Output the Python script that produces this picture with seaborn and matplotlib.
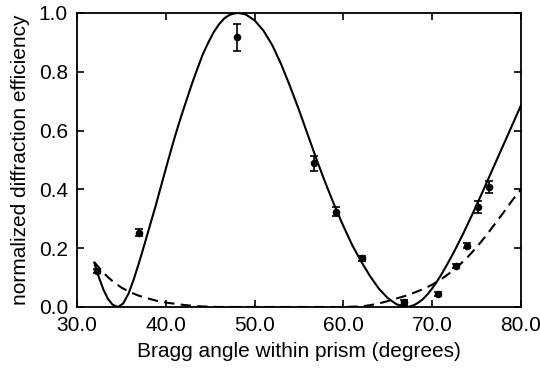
import numpy as np
import pandas as pd
import matplotlib
matplotlib.use("Agg")
import matplotlib.pyplot as plt
import seaborn as sns

# measured points
meas_x = [32.3, 37.0, 48.0, 56.7, 59.2, 62.1, 66.8, 70.6, 72.7, 73.9, 75.2, 76.4]
meas_y = [0.122, 0.253, 0.917, 0.489, 0.324, 0.166, 0.016, 0.044, 0.139, 0.209, 0.339, 0.409]
meas_err = [0.008, 0.012, 0.045, 0.025, 0.015, 0.008, 0.008, 0.006, 0.008, 0.01, 0.02, 0.02]

# solid theory curve
solid_x = [31.95, 32.5, 33.0, 33.5, 34.0, 34.6, 35.2, 35.8, 36.4, 37.0, 37.6, 38.2, 38.8,
           39.4, 40.0, 40.6, 41.2, 41.8, 42.4, 43.0, 43.6, 44.2, 44.8, 45.4, 46.0,
           46.6, 47.2, 47.8, 48.2, 49.0, 50.0, 51.0, 52.0, 53.0, 54.0, 55.0, 56.0,
           57.0, 58.0, 59.0, 60.0, 61.0, 62.0, 63.0, 64.0, 65.0, 66.0, 67.0, 67.5,
           68.0, 68.5, 69.0, 69.5, 70.0, 70.5, 71.0, 71.5, 72.0, 72.5, 73.0, 73.5,
           74.0, 74.5, 75.0, 75.5, 76.0, 76.5, 77.0, 77.5, 78.0, 78.5, 79.0, 79.5, 80.0]
solid_y = [0.150, 0.098, 0.057, 0.027, 0.008, 0.0, 0.012, 0.045, 0.095, 0.152, 0.213, 0.276, 0.338,
           0.404, 0.470, 0.535, 0.597, 0.655, 0.710, 0.764, 0.814, 0.862, 0.900, 0.935, 0.962,
           0.982, 0.994, 0.999, 1.0, 0.995, 0.975, 0.940, 0.890, 0.825, 0.750, 0.670, 0.585,
           0.500, 0.420, 0.345, 0.275, 0.210, 0.155, 0.105, 0.062, 0.030, 0.009, 0.0, 0.002,
           0.007, 0.016, 0.028, 0.044, 0.063, 0.085, 0.109, 0.135, 0.162, 0.190, 0.220, 0.250,
           0.282, 0.314, 0.347, 0.380, 0.414, 0.448, 0.482, 0.516, 0.550, 0.584, 0.618, 0.652, 0.686]

# dashed theory curve
dash_x = [31.9, 32.5, 33.0, 33.5, 34.0, 35.0, 36.0, 37.0, 38.0, 39.0, 40.0, 41.0, 42.0,
          43.0, 44.0, 46.0, 50.0, 55.0, 60.0, 61.0, 62.0, 63.0, 64.0, 65.0, 66.0, 67.0,
          68.0, 69.0, 70.0, 71.0, 72.0, 73.0, 74.0, 75.0, 76.0, 77.0, 78.0, 79.0, 80.0]
dash_y = [0.154, 0.133, 0.116, 0.101, 0.088, 0.066, 0.050, 0.038, 0.029, 0.021, 0.015, 0.011, 0.007,
          0.004, 0.002, 0.0, 0.0, 0.0, 0.0, 0.001, 0.002, 0.006, 0.012, 0.020, 0.029, 0.038,
          0.049, 0.061, 0.076, 0.094, 0.116, 0.141, 0.170, 0.203, 0.240, 0.280, 0.320, 0.362, 0.400]

xticks = [30, 40, 50, 60, 70, 80]
yticks = [0.0, 0.2, 0.4, 0.6, 0.8, 1.0]

sns.set_style("ticks")
plt.rcParams['font.family'] = ['Liberation Sans', 'DejaVu Sans']
plt.rcParams['text.color'] = 'black'
plt.rcParams['axes.labelcolor'] = 'black'
plt.rcParams['xtick.color'] = 'black'
plt.rcParams['ytick.color'] = 'black'

fig = plt.figure(figsize=(5.4, 3.68), dpi=100)
ax = fig.add_axes([0.1426, 0.1658, 0.8222, 0.7989])

df_s = pd.DataFrame({"x": solid_x, "y": solid_y})
df_d = pd.DataFrame({"x": dash_x, "y": dash_y})
df_m = pd.DataFrame({"x": meas_x, "y": meas_y})

sns.lineplot(data=df_s, x="x", y="y", ax=ax, color="black", lw=1.5, sort=False)
sns.lineplot(data=df_d, x="x", y="y", ax=ax, color="black", lw=1.5, sort=False,
             dashes=False, linestyle=(0, (5, 3)))
ax.errorbar(meas_x, meas_y, yerr=meas_err, fmt="none", ecolor="black",
            elinewidth=1.2, capsize=3, capthick=1.2)
sns.scatterplot(data=df_m, x="x", y="y", ax=ax, color="black", s=30,
                edgecolor="black", linewidth=0, zorder=5)

ax.set_xlim(30, 80)
ax.set_ylim(0, 1.0)
ax.set_xticks(xticks)
ax.set_xticklabels([f"{v:.1f}" for v in xticks])
ax.set_yticks(yticks)
ax.set_yticklabels([f"{v:.1f}" for v in yticks])
ax.tick_params(direction="in", top=True, right=True, length=5, width=1.2,
               labelsize=15, color="black", labelcolor="black")
ax.tick_params(axis="x", pad=6.5)
ax.tick_params(axis="y", pad=6.5)
for sp in ax.spines.values():
    sp.set_linewidth(1.3)
    sp.set_color("black")
ax.set_xlabel("Bragg angle within prism (degrees)", fontsize=15, labelpad=5, color="black")
ax.set_ylabel("normalized diffraction efficiency", fontsize=15, labelpad=6, color="black")

fig.savefig("out.png", dpi=100)
